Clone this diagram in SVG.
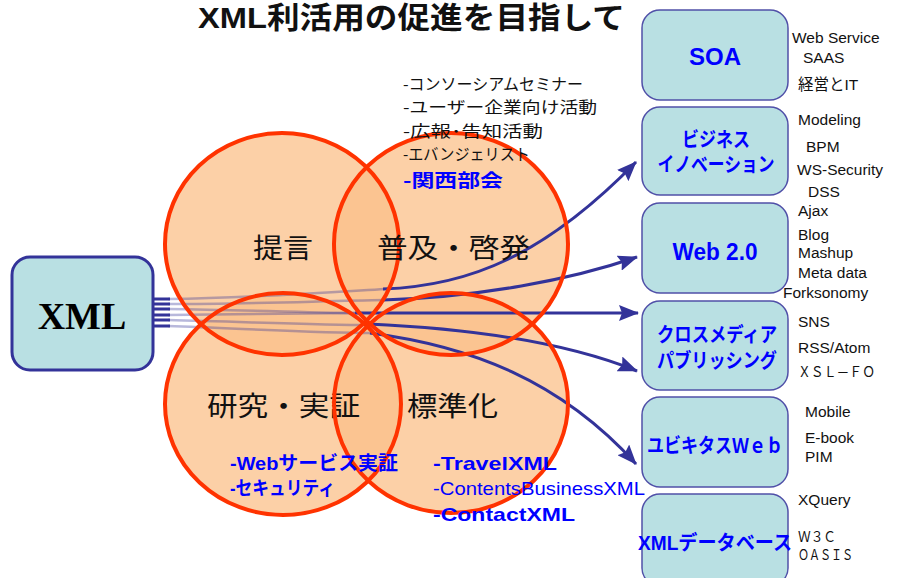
<svg xmlns="http://www.w3.org/2000/svg" width="898" height="578" viewBox="0 0 898 578">
<style>
.jp{font-family:"Liberation Sans","Noto Sans CJK JP",sans-serif;}
.cfill{fill:#FBC08A;fill-opacity:0.75;stroke:none;}
.cline{fill:none;stroke:#FF3300;stroke-width:4;}
.box{fill:#B9E0E3;stroke:#5050A8;stroke-width:1.5;}
.bt{font-family:"Liberation Sans","Noto Sans CJK JP",sans-serif;font-weight:bold;fill:#0000FF;text-anchor:middle;}
.lbl{font-family:"Liberation Sans","Noto Sans CJK JP",sans-serif;font-size:15.5px;fill:#111;}
.big{font-family:"Noto Sans CJK JP",sans-serif;font-size:27px;fill:#111;}
.blue{font-family:"Liberation Sans","Noto Sans CJK JP",sans-serif;font-size:19px;fill:#0000FF;font-weight:bold;}
.list{font-family:"Noto Sans CJK JP",sans-serif;font-size:16px;fill:#111;}
.fade{fill:none;stroke:#333399;stroke-width:2.5;stroke-opacity:0.35;}
.solid{fill:none;stroke:#333399;stroke-width:3;}
.arr{fill:none;stroke:#333399;stroke-width:3;marker-end:url(#ah);}
</style>
<defs>
<marker id="ah" markerWidth="20" markerHeight="16" refX="19" refY="8" orient="auto" markerUnits="userSpaceOnUse">
<path d="M0,0 L20,8 L0,16 L3,8 z" fill="#333399"/>
</marker>
</defs>
<rect width="898" height="578" fill="#FFFFFF"/>

<text class="jp" x="198" y="28" font-size="30" font-weight="bold" fill="#111" textLength="427" lengthAdjust="spacingAndGlyphs">XML利活用の促進を目指して</text>

<g id="circle-fills">
<ellipse class="cfill" cx="282" cy="244" rx="117" ry="111"/>
<ellipse class="cfill" cx="451" cy="244" rx="117" ry="111"/>
<ellipse class="cfill" cx="283" cy="404" rx="118" ry="111"/>
<ellipse class="cfill" cx="451" cy="403" rx="117" ry="110"/>
</g>

<g id="connectors">
<path class="solid" d="M150,299 L170,299 M150,304 L170,304 M150,309 L170,309 M150,315 L170,315 M150,320 L170,320 M150,326 L170,326"/>
<path class="fade" d="M168,299 C250,298 320,293 385,289"/>
<path class="fade" d="M168,304 C250,304 320,301 385,300"/>
<path class="fade" d="M168,309 C250,310 320,313 358,313"/>
<path class="fade" d="M168,315 L358,313"/>
<path class="fade" d="M168,320 C250,322 320,325 370,325"/>
<path class="fade" d="M168,326 C250,329 320,333 372,333"/>
<path class="arr" d="M383,289 C470,286 545,255 636,162"/>
<path class="arr" d="M383,300 C480,297 570,280 637,257"/>
<path class="arr" d="M355,313 L638,313"/>
<path class="arr" d="M368,324 C460,328 560,340 637,371"/>
<path class="arr" d="M370,333 C470,346 560,380 636,464"/>
</g>

<g id="teigen"><ellipse class="cline" cx="282" cy="244" rx="117" ry="111"/>
<text class="big" x="253" y="258" textLength="60" lengthAdjust="spacingAndGlyphs">提言</text></g>
<g id="fukyu"><ellipse class="cline" cx="451" cy="244" rx="117" ry="111"/>
<text class="big" x="377" y="258" textLength="153" lengthAdjust="spacingAndGlyphs">普及・啓発</text></g>
<g id="kenkyu"><ellipse class="cline" cx="283" cy="404" rx="118" ry="111"/>
<text class="big" x="207" y="416" textLength="153" lengthAdjust="spacingAndGlyphs">研究・実証</text></g>
<g id="hyojun"><ellipse class="cline" cx="451" cy="403" rx="117" ry="110"/>
<text class="big" x="407" y="416" textLength="91" lengthAdjust="spacingAndGlyphs">標準化</text></g>

<g id="xml">
<rect x="12" y="257" width="141" height="113" rx="18" fill="#B9E0E3" stroke="#333399" stroke-width="3"/>
<text x="82" y="329" font-family="Liberation Serif,serif" font-weight="bold" font-size="38" text-anchor="middle" fill="#000">XML</text>
</g>

<g id="list-top">
<text class="list" x="403" y="90" textLength="180" lengthAdjust="spacingAndGlyphs">-コンソーシアムセミナー</text>
<text class="list" x="403" y="113" textLength="194" lengthAdjust="spacingAndGlyphs">-ユーザー企業向け活動</text>
<text class="list" x="403" y="137" textLength="140" lengthAdjust="spacingAndGlyphs">-広報･告知活動</text>
<text class="list" x="403" y="160" textLength="127" lengthAdjust="spacingAndGlyphs">-エバンジェリスト</text>
<text class="list" x="403" y="187" style="fill:#0000FF;font-weight:bold;font-size:18px" textLength="100" lengthAdjust="spacingAndGlyphs">-関西部会</text>
</g>

<g id="list-bottom">
<text class="blue" x="230" y="470" textLength="168" lengthAdjust="spacingAndGlyphs">-Webサービス実証</text>
<text class="blue" x="230" y="495" textLength="105" lengthAdjust="spacingAndGlyphs">-セキュリティ</text>
<text class="blue" x="433" y="470" textLength="124" lengthAdjust="spacingAndGlyphs">-TravelXML</text>
<text class="blue" x="433" y="495" style="font-weight:normal" textLength="212" lengthAdjust="spacingAndGlyphs">-ContentsBusinessXML</text>
<text class="blue" x="433" y="521" textLength="142" lengthAdjust="spacingAndGlyphs">-ContactXML</text>
</g>

<g id="soa">
<rect class="box" x="642" y="10" width="146" height="90" rx="18"/>
<text class="bt" x="715" y="65" font-size="24">SOA</text>
</g>
<g id="business">
<rect class="box" x="642" y="107" width="146" height="88" rx="18"/>
<text class="bt" x="716" y="147" font-size="20" textLength="68" lengthAdjust="spacingAndGlyphs">ビジネス</text>
<text class="bt" x="716" y="172" font-size="20" textLength="117" lengthAdjust="spacingAndGlyphs">イノベーション</text>
</g>
<g id="web20">
<rect class="box" x="642" y="203" width="146" height="90" rx="18"/>
<text class="bt" x="715" y="260" font-size="23" textLength="85" lengthAdjust="spacingAndGlyphs">Web 2.0</text>
</g>
<g id="crossmedia">
<rect class="box" x="642" y="301" width="146" height="89" rx="18"/>
<text class="bt" x="717" y="342" font-size="20" textLength="120" lengthAdjust="spacingAndGlyphs">クロスメディア</text>
<text class="bt" x="717" y="368" font-size="20" textLength="120" lengthAdjust="spacingAndGlyphs">パブリッシング</text>
</g>
<g id="ubiquitous">
<rect class="box" x="642" y="397" width="146" height="90" rx="18"/>
<text class="bt" x="715" y="453" font-size="20" textLength="136" lengthAdjust="spacingAndGlyphs">ユビキタスＷｅｂ</text>
</g>
<g id="xmldb">
<rect class="box" x="642" y="494" width="146" height="92" rx="18"/>
<text class="bt" x="715" y="550" font-size="20" textLength="154" lengthAdjust="spacingAndGlyphs">XMLデータベース</text>
</g>

<g id="keywords">
<text class="lbl" x="792" y="43">Web Service</text>
<text class="lbl" x="803" y="63">SAAS</text>
<text class="lbl" x="798" y="90">経営とIT</text>
<text class="lbl" x="798" y="125">Modeling</text>
<text class="lbl" x="806" y="152">BPM</text>
<text class="lbl" x="797" y="175">WS-Security</text>
<text class="lbl" x="808" y="197">DSS</text>
<text class="lbl" x="798" y="216">Ajax</text>
<text class="lbl" x="798" y="240">Blog</text>
<text class="lbl" x="798" y="258">Mashup</text>
<text class="lbl" x="798" y="278">Meta data</text>
<text class="lbl" x="783" y="298">Forksonomy</text>
<text class="lbl" x="798" y="327">SNS</text>
<text class="lbl" x="798" y="353">RSS/Atom</text>
<text class="lbl" x="798" y="377" style="font-size:14px" textLength="77" lengthAdjust="spacingAndGlyphs">ＸＳＬ－ＦＯ</text>
<text class="lbl" x="805" y="417">Mobile</text>
<text class="lbl" x="805" y="443">E-book</text>
<text class="lbl" x="805" y="462">PIM</text>
<text class="lbl" x="798" y="505">XQuery</text>
<text class="lbl" x="798" y="542" style="font-size:14px" textLength="38" lengthAdjust="spacingAndGlyphs">Ｗ３Ｃ</text>
<text class="lbl" x="798" y="560" style="font-size:14px" textLength="55" lengthAdjust="spacingAndGlyphs">ＯＡＳＩＳ</text>
</g>
</svg>
